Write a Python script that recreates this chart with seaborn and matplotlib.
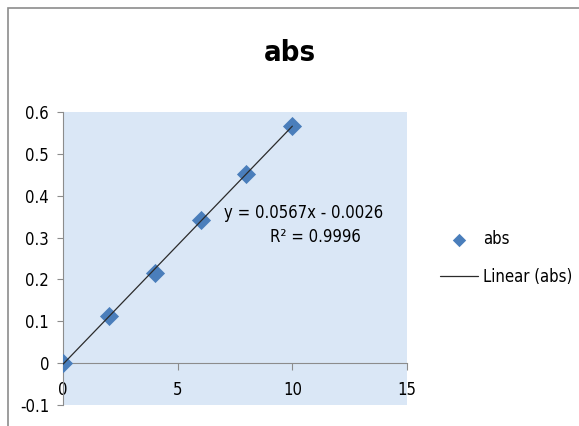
import numpy as np
import pandas as pd
import matplotlib
matplotlib.use("Agg")
import matplotlib.pyplot as plt
import matplotlib.patches as patches
import seaborn as sns

# --- dados ---
conc = [0, 2, 4, 6, 8, 10]
absorb = [0.0, 0.113, 0.216, 0.342, 0.453, 0.567]
y_ticks = [-0.1, 0, 0.1, 0.2, 0.3, 0.4, 0.5, 0.6]
y_labels = ["-0.1", "0", "0.1", "0.2", "0.3", "0.4", "0.5", "0.6"]
x_ticks = [0, 5, 10, 15]
eq_text = "y = 0.0567x - 0.0026"
r2_text = "R² = 0.9996"

df = pd.DataFrame({"conc": conc, "abs": absorb})

sns.set_style("white")
plt.rcParams["font.family"] = ["DejaVu Sans"]
plt.rcParams["font.stretch"] = "condensed"
plt.rcParams["text.color"] = "black"
plt.rcParams["xtick.labelcolor"] = "black"
plt.rcParams["ytick.labelcolor"] = "black"

fig = plt.figure(figsize=(5.79, 4.26), dpi=100)
ax = fig.add_axes([63 / 579, 21 / 426, 344 / 579, 293 / 426])
ax.set_facecolor("#dae7f6")

sns.regplot(data=df, x="conc", y="abs", ax=ax, ci=None, marker="D", label="abs",
            scatter_kws={"s": 95, "color": "#4a7ebb", "alpha": 1, "linewidths": 0,
                         "zorder": 3},
            line_kws={"color": "#2b2b2b", "lw": 0.9, "zorder": 4})
line = ax.lines[-1]
line.set_label("Linear (abs)")

ax.set_xlim(0, 15)
ax.set_ylim(-0.1, 0.6)
ax.set_xticks(x_ticks)
ax.set_xticklabels([str(t) for t in x_ticks])
ax.set_yticks(y_ticks)
ax.set_yticklabels(y_labels)
ax.set_xlabel("")
ax.set_ylabel("")

for s in ["top", "right"]:
    ax.spines[s].set_visible(False)
ax.spines["bottom"].set_position(("data", 0))
ax.spines["bottom"].set_color("#8c8c8c")
ax.spines["left"].set_color("#8c8c8c")
ax.tick_params(axis="x", direction="out", length=5, color="#8c8c8c", pad=8, labelsize=12)
ax.tick_params(axis="y", direction="out", length=4, color="#8c8c8c", pad=6, labelsize=12)
ax.tick_params(left=True, bottom=True)

ax.text(10.5, 0.359, eq_text, ha="center", va="center", fontsize=12)
ax.text(11.0, 0.301, r2_text, ha="center", va="center", fontsize=12)

fig.text(0.5, 0.876, "abs", ha="center", va="center", fontsize=21, fontweight="bold")

ax.legend(loc="center left", bbox_to_anchor=(440 / 579, 1 - 258 / 426),
          bbox_transform=fig.transFigure, frameon=False, scatterpoints=1,
          markerscale=0.7, fontsize=12, handlelength=2.3, labelspacing=1.2,
          handletextpad=0.3, borderaxespad=0, borderpad=0)

# borda externa do gráfico
border = patches.Rectangle((8 / 579, -0.05), 1.05, 1 - 8 / 426 + 0.05,
                           transform=fig.transFigure, fill=False,
                           edgecolor="#8c8c8c", lw=1.2, clip_on=False)
fig.patches.append(border)

fig.savefig("out.png", dpi=100)
